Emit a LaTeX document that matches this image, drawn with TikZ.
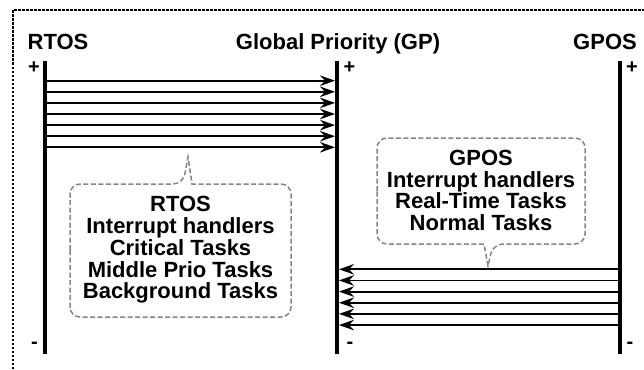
\documentclass[tikz,border=0pt]{standalone}
\usepackage{fontspec}
\setmainfont{Liberation Sans}
\usetikzlibrary{arrows.meta}
\begin{document}
\begin{tikzpicture}[x=1pt,y=-1pt,
  axis/.style={line width=4.2pt},
  flow/.style={line width=1.9pt,-{Stealth[length=15pt,width=10.5pt,inset=5pt]}},
  note/.style={draw=black!48,line width=1.5pt,dash pattern=on 5pt off 2.5pt},
  heading/.style={font=\fontsize{22}{22}\selectfont\bfseries,anchor=base,inner sep=0pt},
  notetext/.style={font=\fontsize{22}{21.8}\selectfont\bfseries,align=center,inner sep=0pt},
  sign/.style={font=\fontsize{20}{20}\selectfont\bfseries,anchor=base,inner sep=0pt},
  frame/.style={line width=1.3pt,dash pattern=on 2.5pt off 1.5pt}]

\useasboundingbox (0,0) rectangle (644,369);

% outer frame (only top and left edges lie inside the page)
\draw[frame] (13,369) -- (13,10) -- (644,10);

% headings
\node[heading] (hrtos) at (58,49.3) {RTOS};
\node[heading] (hgp)   at (338,49.3) {Global Priority (GP)};
\node[heading] (hgpos) at (605,49.3) {GPOS};

% priority axes
\coordinate (rtosTop) at (45,61);  \coordinate (rtosBot) at (45,354);
\coordinate (gpTop)   at (337,61); \coordinate (gpBot)   at (337,354);
\coordinate (gposTop) at (620,61); \coordinate (gposBot) at (620,354);
\draw[axis] (rtosTop) -- (rtosBot);
\draw[axis] (gpTop) -- (gpBot);
\draw[axis] (gposTop) -- (gposBot);

% axis polarity marks
\node[sign] (rplus)  at (34,74)  {+};
\node[sign] (gplus)  at (349.5,74) {+};
\node[sign] (oplus)  at (632,74) {+};
\node[sign] (rminus) at (34.5,348.5) {-};
\node[sign] (gminus) at (350,348.5)  {-};
\node[sign] (ominus) at (630,348.5)  {-};

% RTOS priorities mapped onto the global scale
\foreach \i in {0,...,6} {
  \coordinate (r\i) at (45,80.7+11.1*\i);
  \coordinate (ga\i) at (335,80.7+11.1*\i);
  \draw[flow] (r\i) -- (ga\i);
}

% GPOS priorities mapped onto the global scale
\foreach \i in {0,...,5} {
  \coordinate (o\i) at (620,269.3+11.15*\i);
  \coordinate (gb\i) at (339,269.3+11.15*\i);
  \draw[flow] (o\i) -- (gb\i);
}

% RTOS callout
\draw[note] (70,250) [rounded corners=10pt] |- (183,184) [sharp corners] -- (188,157) -- (192,184)
  [rounded corners=10pt] -| (291,317) -| (70,250);
\node[notetext] (rtosnote) at (180.5,250) {RTOS\\Interrupt handlers\\Critical Tasks\\Middle Prio Tasks\\Background Tasks};

% GPOS callout
\draw[note] (377,191) [rounded corners=10pt] |- (585,138) |- (493,244) [sharp corners] -- (488,266) -- (484,244)
  [rounded corners=10pt] -| (377,191);
\node[notetext] (gposnote) at (481,190.5) {GPOS\\Interrupt handlers\\Real-Time Tasks\\Normal Tasks};

\end{tikzpicture}
\end{document}
